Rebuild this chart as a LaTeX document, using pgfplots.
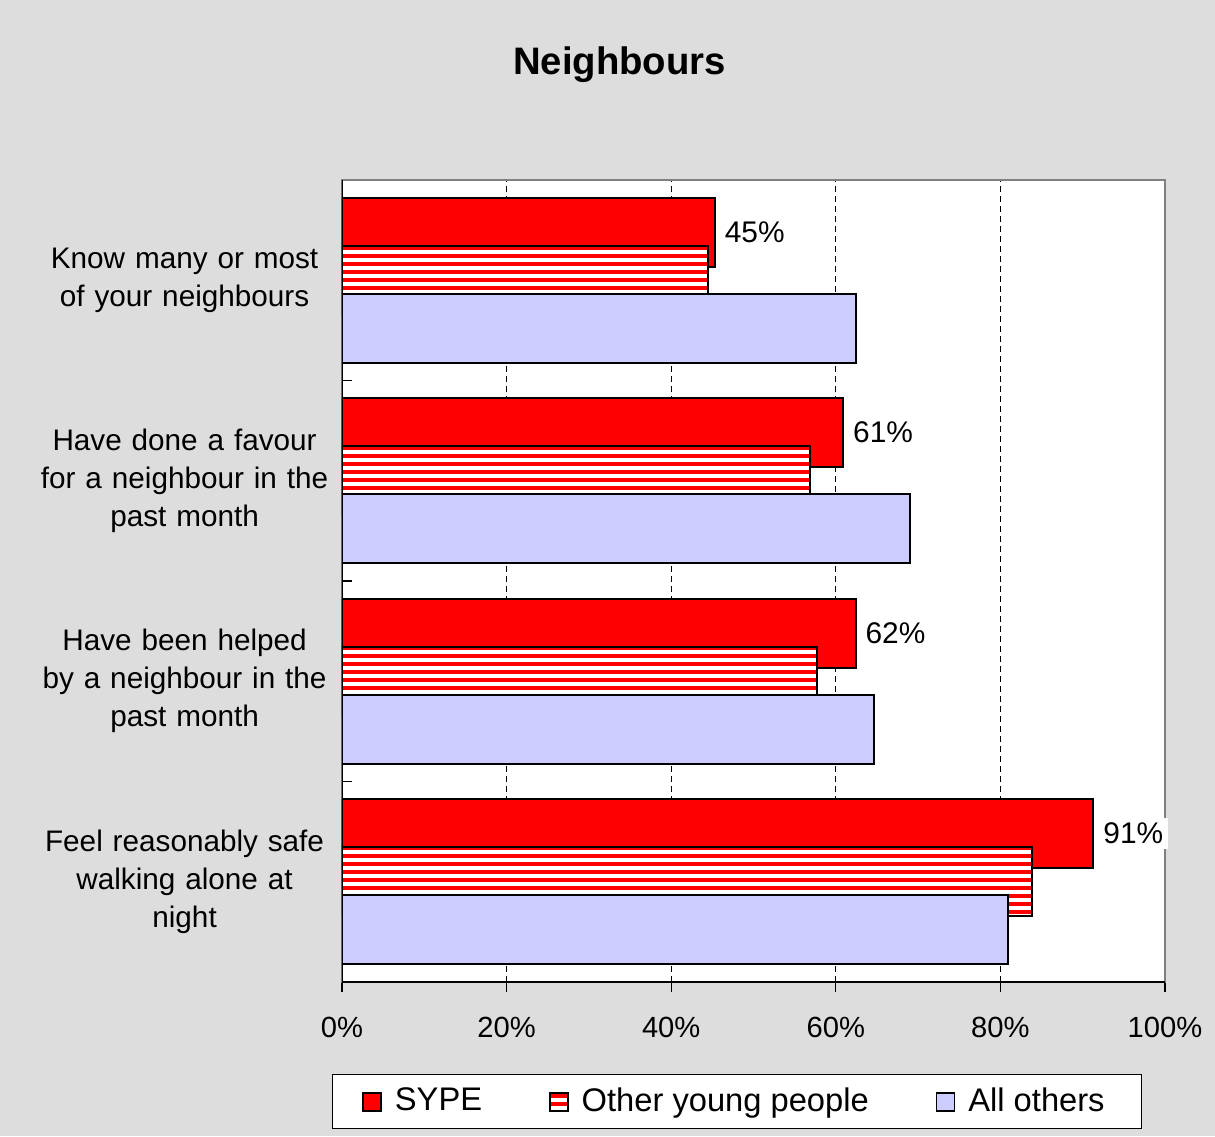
\documentclass[border=0pt]{standalone}
\usepackage{fontspec}
\setmainfont{Liberation Sans}
\usepackage{pgfplots}
\pgfplotsset{compat=1.18}
\usetikzlibrary{patterns.meta}
\definecolor{bgGrey}{HTML}{DDDDDD}
\definecolor{allOthers}{HTML}{CCCCFF}
\definecolor{frameGrey}{HTML}{808080}

\begin{document}
\begin{tikzpicture}[x=0.1mm,y=0.1mm]
% page background
\fill[bgGrey] (0,0) rectangle (1215,1136);
\node[anchor=base, font=\fontsize{10.9}{13}\selectfont\bfseries] at (619.5,1061) {Neighbours};

\begin{axis}[
    at={(34.2mm,15.4mm)}, anchor=south west,
    scale only axis, width=82.3mm, height=80.2mm,
    xbar, bar width=0.345,
    xmin=0, xmax=100, ymin=-0.5, ymax=3.5,
    axis background/.style={fill=white},
    axis line style={frameGrey, line width=0.2mm},
    tick style={black, line width=0.12mm},
    xtick align=outside, ytick align=inside,
    xtick pos=bottom, ytick pos=left,
    xtick={0,20,40,60,80,100},
    xticklabels={0\%,20\%,40\%,60\%,80\%,100\%},
    major tick length=1mm,
    xticklabel style={font=\fontsize{8.3}{10}\selectfont, yshift=-1.3mm},
    ytick={-0.5,0.5,1.5,2.5,3.5}, yticklabels={},
    extra y ticks={0,1,2,3},
    extra y tick labels={{Feel reasonably safe\\walking alone at\\night},
                         {Have been helped\\by a neighbour in the\\past month},
                         {Have done a favour\\for a neighbour in the\\past month},
                         {Know many or most\\of your neighbours}},
    extra y tick style={major tick length=0pt},
    yticklabel style={font=\fontsize{8.45}{10.8}\selectfont, align=center,
        text width=29.8mm, xshift=0.4mm},
    xmajorgrids,
    grid style={black, line width=0.1mm, dash pattern=on 0.6mm off 0.4mm},
    legend columns=3,
    legend style={at={(0.48,-0.1496)}, anchor=center, draw=black, fill=white,
        line width=0.1mm, font=\fontsize{9.3}{11}\selectfont,
        inner xsep=3.0mm, inner ysep=0.55mm,
        /tikz/every odd column/.append style={column sep=0.6mm},
        /tikz/every even column/.append style={column sep=6.0mm}},
    legend image code/.code={\draw[#1, line width=0.15mm] (0mm,-0.9mm) rectangle (1.8mm,0.9mm);},
]

% SYPE
\addplot[fill=red, draw=black, line width=0.2mm, bar shift=0.24,
    point meta=explicit symbolic, nodes near coords,
    nodes near coords style={anchor=west, fill=white, inner sep=0.5mm,
        xshift=0.4mm, font=\fontsize{8.5}{10}\selectfont}]
    coordinates {
    (91.3,0) [91\%]
    (62.4,1) [62\%]
    (60.9,2) [61\%]
    (45.3,3) [45\%]
};
\addlegendentry{SYPE}

% Other young people
\addplot[draw=black, line width=0.2mm, bar shift=0,
    preaction={fill=white},
    pattern={Lines[angle=0,distance=0.8mm,line width=0.4mm]}, pattern color=red]
    coordinates {
    (83.8,0)
    (57.7,1)
    (56.9,2)
    (44.5,3)
};
\addlegendentry{Other young people}

% All others
\addplot[fill=allOthers, draw=black, line width=0.2mm, bar shift=-0.24]
    coordinates {
    (80.9,0)
    (64.6,1)
    (69.0,2)
    (62.4,3)
};
\addlegendentry{All others}

\draw[black, line width=0.2mm] (rel axis cs:0,1) -- (rel axis cs:0,0) -- (rel axis cs:1,0);
\end{axis}
\end{tikzpicture}
\end{document}
